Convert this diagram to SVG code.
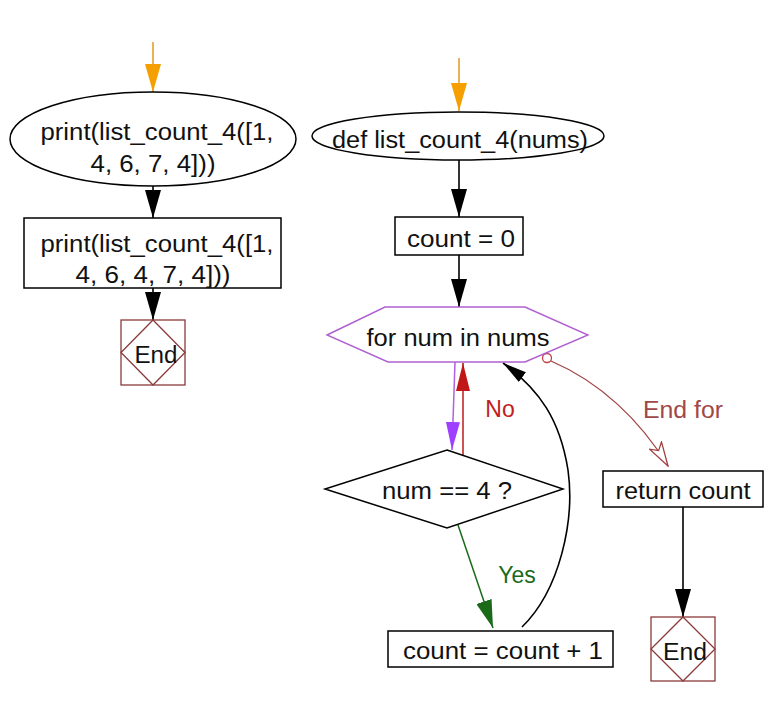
<svg xmlns="http://www.w3.org/2000/svg" width="766" height="712" viewBox="0 0 766 712">
<style>
text{font-family:"Liberation Sans",Arial,sans-serif;font-size:23px;fill:#111;text-anchor:middle}
.box{fill:#fff;stroke:#000;stroke-width:1.5}
.endb{fill:#fff;stroke:#8b3a3a;stroke-width:1.3}
.endd{fill:none;stroke:#8b3a3a;stroke-width:1.3}
.c{fill:none;stroke:#000;stroke-width:1.6}
</style>
<defs>
<marker id="ab" viewBox="0 0 28 16" refX="28" refY="8" markerWidth="28" markerHeight="16" markerUnits="userSpaceOnUse" orient="auto"><path d="M0,0 L28,8 L0,16 Z" fill="#000"/></marker>
<marker id="ao" viewBox="0 0 28 16" refX="28" refY="8" markerWidth="28" markerHeight="16" markerUnits="userSpaceOnUse" orient="auto"><path d="M0,0 L28,8 L0,16 Z" fill="#f5a000"/></marker>
<marker id="ap" viewBox="0 0 28 14" refX="28" refY="7" markerWidth="28" markerHeight="14" markerUnits="userSpaceOnUse" orient="auto"><path d="M0,0 L28,7 L0,14 Z" fill="#a040ff"/></marker>
<marker id="ar" viewBox="0 0 28 14" refX="28" refY="7" markerWidth="28" markerHeight="14" markerUnits="userSpaceOnUse" orient="auto"><path d="M0,0 L28,7 L0,14 Z" fill="#c01818"/></marker>
<marker id="ag" viewBox="0 0 28 16" refX="28" refY="8" markerWidth="28" markerHeight="16" markerUnits="userSpaceOnUse" orient="auto"><path d="M0,0 L28,8 L0,16 Z" fill="#1a6a1a"/></marker>
<marker id="ak" viewBox="0 0 24 12" refX="24" refY="6" markerWidth="24" markerHeight="12" markerUnits="userSpaceOnUse" orient="auto"><path d="M0,0 L24,6 L0,12 Z" fill="#000"/></marker>
<marker id="aw" viewBox="0 0 26 16" refX="25" refY="8" markerWidth="26" markerHeight="16" markerUnits="userSpaceOnUse" orient="auto"><path d="M1,1 L25,8 L1,15 L7,8 Z" fill="#fff" stroke="#a04040" stroke-width="1.3"/></marker>
</defs>
<rect width="766" height="712" fill="#fff"/>
<g id="connectors">
<line x1="153" y1="42" x2="153" y2="92" stroke="#e09a20" stroke-width="1.5" marker-end="url(#ao)"/>
<line x1="459" y1="58" x2="459" y2="111" stroke="#e09a20" stroke-width="1.5" marker-end="url(#ao)"/>
<line class="c" x1="153" y1="186" x2="153" y2="218" marker-end="url(#ab)"/>
<line class="c" x1="153" y1="288" x2="153" y2="320" marker-end="url(#ab)"/>
<line class="c" x1="459" y1="160" x2="459" y2="217" marker-end="url(#ab)"/>
<line class="c" x1="459" y1="255" x2="459" y2="307" marker-end="url(#ab)"/>
<path d="M455,362 L452,450" fill="none" stroke="#b060e0" stroke-width="1.5" marker-end="url(#ap)"/>
<path d="M463,455 L463,363" fill="none" stroke="#c01818" stroke-width="1.5" marker-end="url(#ar)"/>
<text x="500" y="417" style="fill:#c02020">No</text>
<path d="M458,525 L493,628" fill="none" stroke="#1a6a1a" stroke-width="1.5" marker-end="url(#ag)"/>
<text x="517" y="583" style="fill:#1a6a1a">Yes</text>
<path class="c" d="M522,627 C560,590 575,520 568,470 C560,420 540,390 503,363" marker-end="url(#ak)"/>
<circle cx="547" cy="358" r="4.5" fill="#fff" stroke="#c04040" stroke-width="1.3"/>
<path d="M551,361 C600,382 640,420 668,466" fill="none" stroke="#a04040" stroke-width="1.2" marker-end="url(#aw)"/>
<text x="683" y="418" style="fill:#a04848" textLength="80" lengthAdjust="spacingAndGlyphs">End for</text>
<line class="c" x1="683" y1="507" x2="683" y2="617" marker-end="url(#ab)"/>
</g>
<g id="start-print">
<ellipse class="box" cx="153" cy="139" rx="143" ry="47"/>
<text x="157" y="140" textLength="233" lengthAdjust="spacingAndGlyphs">print(list_count_4([1,</text>
<text x="153" y="172" textLength="125" lengthAdjust="spacingAndGlyphs">4, 6, 7, 4]))</text>
</g>
<g id="print-call">
<rect class="box" x="24" y="218" width="257" height="70"/>
<text x="157" y="252" textLength="233" lengthAdjust="spacingAndGlyphs">print(list_count_4([1,</text>
<text x="153" y="283" textLength="155" lengthAdjust="spacingAndGlyphs">4, 6, 4, 7, 4]))</text>
</g>
<g id="end-left">
<rect class="endb" x="121" y="320" width="64" height="65"/>
<path class="endd" d="M153,320 L185,352.5 L153,385 L121,352.5 Z"/>
<text x="156" y="363" textLength="43" lengthAdjust="spacingAndGlyphs">End</text>
</g>
<g id="def">
<ellipse class="box" cx="458" cy="136" rx="146" ry="24"/>
<text x="460" y="148" textLength="256" lengthAdjust="spacingAndGlyphs">def list_count_4(nums)</text>
</g>
<g id="count-init">
<rect class="box" x="395" y="217" width="128" height="38"/>
<text x="461" y="247" textLength="108" lengthAdjust="spacingAndGlyphs">count = 0</text>
</g>
<g id="for-loop">
<polygon points="327,335 385,307 525,307 588,335 525,362 388,362" fill="#fff" stroke="#b060d0" stroke-width="1.4"/>
<text x="458" y="346" textLength="183" lengthAdjust="spacingAndGlyphs">for num in nums</text>
</g>
<g id="decision">
<polygon class="box" points="447,450 563,489 447,528 325,489"/>
<text x="447" y="499" textLength="130" lengthAdjust="spacingAndGlyphs">num == 4 ?</text>
</g>
<g id="increment">
<rect class="box" x="388" y="631" width="225" height="36"/>
<text x="503" y="659" textLength="200" lengthAdjust="spacingAndGlyphs">count = count + 1</text>
</g>
<g id="return">
<rect class="box" x="603" y="471" width="160" height="36"/>
<text x="683" y="499" textLength="135" lengthAdjust="spacingAndGlyphs">return count</text>
</g>
<g id="end-right">
<rect class="endb" x="651" y="617" width="64" height="64"/>
<path class="endd" d="M683,617 L715,649 L683,681 L651,649 Z"/>
<text x="685" y="660" textLength="44" lengthAdjust="spacingAndGlyphs">End</text>
</g>
</svg>
